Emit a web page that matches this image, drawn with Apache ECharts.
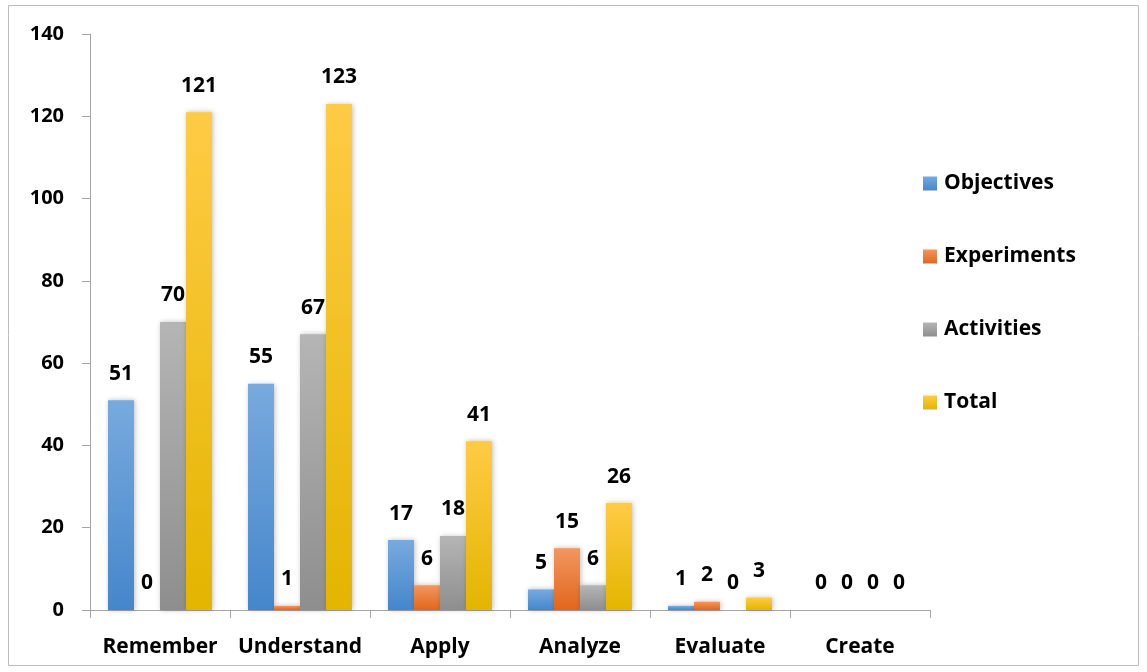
<!DOCTYPE html>
<html><head><meta charset="utf-8">
<script src="https://cdn.jsdelivr.net/npm/echarts@6/dist/echarts.min.js"></script>
<style>html,body{margin:0;padding:0;background:#fff}#c{width:1147px;height:672px}</style>
</head><body><div id="c"></div>
<script>
const categories = ['Remember','Understand','Apply','Analyze','Evaluate','Create'];
const objectives = [51,55,17,5,1,0];
const experiments = [0,1,6,15,2,0];
const activities = [70,67,18,6,0,0];
const total = [121,123,41,26,3,0];
const seriesNames = ['Objectives','Experiments','Activities','Total'];

const grads = [
  ['#78AADE','#4586CB'],
  ['#F29660','#E2661C'],
  ['#B5B5B5','#8E8E8E'],
  ['#FFCB45','#E3B500']
];
function grad(c){return new echarts.graphic.LinearGradient(0,0,0,1,[{offset:0,color:c[0]},{offset:1,color:c[1]}]);}
const font = '"Open Sans", "Liberation Sans", sans-serif';
const dataArr = [objectives, experiments, activities, total];

const chart = echarts.init(document.getElementById('c'));
chart.setOption({
  animation:false,
  backgroundColor:'#fff',
  graphic:[{type:'rect',shape:{x:8.5,y:5.5,width:1130,height:660},style:{fill:'none',stroke:'#BDBDBD',lineWidth:1}}],
  grid:{left:90,right:217,top:34,bottom:62,containLabel:false},
  legend:{
    orient:'vertical',left:918,top:168,itemGap:52,itemWidth:14,itemHeight:14,icon:'rect',
    textStyle:{fontFamily:font,fontWeight:'bold',fontSize:21,color:'#000',padding:[0,0,0,2]},
    data:seriesNames.map((n,i)=>({name:n,itemStyle:{color:grad(grads[i])}}))
  },
  xAxis:{
    type:'category',data:categories,
    axisLine:{lineStyle:{color:'#A6A6A6',width:1}},
    axisTick:{show:true,length:8,lineStyle:{color:'#A6A6A6'}},
    axisLabel:{interval:0,fontFamily:font,fontWeight:'bold',fontSize:21,color:'#000',margin:27}
  },
  yAxis:{
    type:'value',min:0,max:140,interval:20,
    splitLine:{show:false},
    axisLine:{show:true,lineStyle:{color:'#A6A6A6',width:1}},
    axisTick:{show:true,length:8,lineStyle:{color:'#A6A6A6'}},
    axisLabel:{fontFamily:font,fontWeight:'bold',fontSize:20,color:'#000',margin:26}
  },
  series:seriesNames.map((n,i)=>({
    name:n,type:'bar',data:dataArr[i],
    barWidth:26,barGap:'0%',
    itemStyle:{color:grad(grads[i]),shadowColor:'rgba(0,0,0,0.25)',shadowBlur:5,shadowOffsetX:1,shadowOffsetY:0},
    label:{show:true,position:'top',distance:16,fontFamily:font,fontWeight:'bold',fontSize:21,color:'#000'}
  }))
});
</script></body></html>
